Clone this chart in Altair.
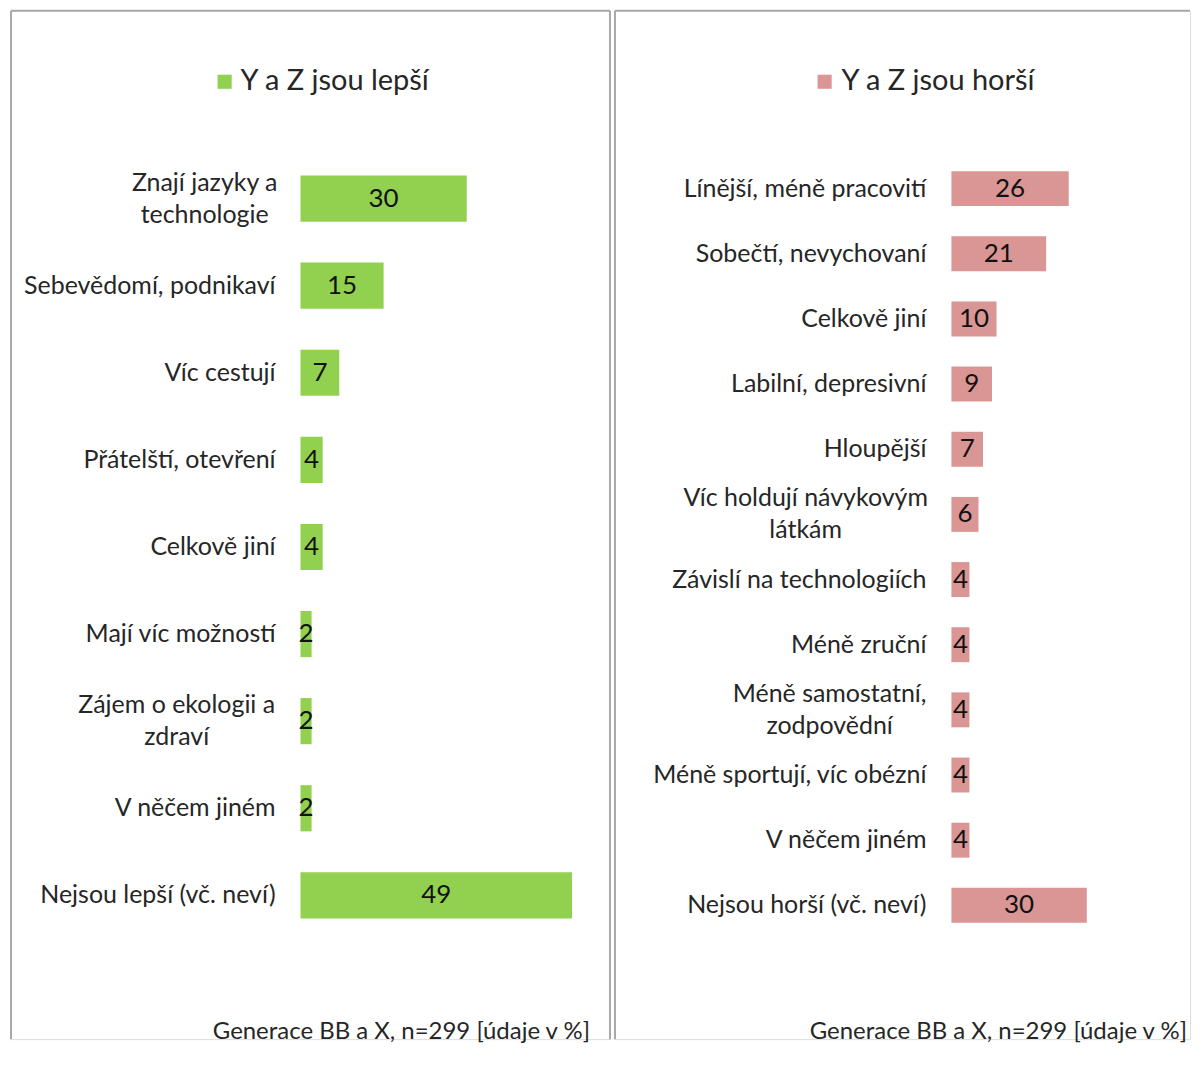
import altair as alt
import pandas as pd

# ---- data ----
left_title = "Y a Z jsou lepší"
left_cats = [
    "Znají jazyky a\ntechnologie",
    "Sebevědomí, podnikaví",
    "Víc cestují",
    "Přátelští, otevření",
    "Celkově jiní",
    "Mají víc možností",
    "Zájem o ekologii a\nzdraví",
    "V něčem jiném",
    "Nejsou lepší (vč. neví)",
]
left_vals = [30, 15, 7, 4, 4, 2, 2, 2, 49]

right_title = "Y a Z jsou horší"
right_cats = [
    "Línější, méně pracovití",
    "Sobečtí, nevychovaní",
    "Celkově jiní",
    "Labilní, depresivní",
    "Hloupější",
    "Víc holdují návykovým\nlátkám",
    "Závislí na technologiích",
    "Méně zruční",
    "Méně samostatní,\nzodpovědní",
    "Méně sportují, víc obézní",
    "V něčem jiném",
    "Nejsou horší (vč. neví)",
]
right_vals = [26, 21, 10, 9, 7, 6, 4, 4, 4, 4, 4, 30]

footer = "Generace BB a X, n=299 [údaje v %]"

FONT = "Lato"
LABEL_SIZE = 25
VALUE_SIZE = 26
TITLE_SIZE = 29
FOOT_SIZE = 24
PANEL_H = 1030
LINE_H = 32
BORDER = "#A9A9A9"


def panel(cats, vals, title, color, width, xdom, yrange, pin, pout,
          wrapped_dx, legend_sq_x, legend_tx_x, foot_x, right_border):
    df = pd.DataFrame({"cat": cats, "val": vals})
    df["mid"] = df["val"] / 2
    df["zero"] = 0
    x_scale = alt.Scale(domain=xdom, nice=False, zero=False)
    y_scale = alt.Scale(domain=cats, range=yrange, paddingInner=pin, paddingOuter=pout)
    y = alt.Y("cat:N", scale=y_scale, axis=None, sort=cats)
    base = alt.Chart(df)

    bars = base.mark_bar(color=color).encode(
        x=alt.X("val:Q", scale=x_scale, axis=None),
        x2=alt.X2("zero:Q"),
        y=y,
    )
    values = base.mark_text(
        font=FONT, fontSize=VALUE_SIZE, color="#111111", baseline="middle", align="center"
    ).encode(
        x=alt.X("mid:Q", scale=x_scale, axis=None),
        y=y,
        text="val:Q",
    )
    single = [c for c in cats if "\n" not in c]
    labels = base.transform_filter(
        alt.FieldOneOfPredicate(field="cat", oneOf=single)
    ).mark_text(
        font=FONT, fontSize=LABEL_SIZE, color="#262626", baseline="middle",
        align="right", dx=-25,
    ).encode(
        x=alt.X("zero:Q", scale=x_scale, axis=None),
        y=y,
        text="cat:N",
    )

    layers = [bars, values, labels]
    for c, dx in wrapped_dx.items():
        layers.append(
            base.transform_filter(alt.datum.cat == c)
            .mark_text(
                font=FONT, fontSize=LABEL_SIZE, color="#262626", baseline="middle",
                align="center", dx=dx, dy=-LINE_H / 2, lineBreak="\n", lineHeight=LINE_H,
            )
            .encode(
                x=alt.X("zero:Q", scale=x_scale, axis=None),
                y=y,
                text="cat:N",
            )
        )

    tdf = pd.DataFrame({"t": [title]})
    sq = alt.Chart(tdf).mark_square(color=color, size=200, opacity=1).encode(
        x=alt.value(legend_sq_x), y=alt.value(71)
    )
    tt = alt.Chart(tdf).mark_text(
        font=FONT, fontSize=TITLE_SIZE, color="#262626", align="left", baseline="middle"
    ).encode(x=alt.value(legend_tx_x), y=alt.value(70), text="t:N")
    fdf = pd.DataFrame({"t": [footer]})
    ft = alt.Chart(fdf).mark_text(
        font=FONT, fontSize=FOOT_SIZE, color="#262626", align="right", baseline="middle"
    ).encode(x=alt.value(foot_x), y=alt.value(1023), text="t:N")

    # panel frame (no bottom edge; it runs past the page in the original)
    top = alt.Chart(tdf).mark_rule(color=BORDER, strokeWidth=2).encode(
        x=alt.value(0), x2=alt.value(width), y=alt.value(0)
    )
    lft = alt.Chart(tdf).mark_rule(color=BORDER, strokeWidth=2).encode(
        x=alt.value(0), y=alt.value(0), y2=alt.value(PANEL_H)
    )
    layers += [sq, tt, ft, top, lft]
    if right_border:
        layers.append(
            alt.Chart(tdf).mark_rule(color=BORDER, strokeWidth=2).encode(
                x=alt.value(width), y=alt.value(0), y2=alt.value(PANEL_H)
            )
        )
    return alt.layer(*layers).properties(width=width, height=PANEL_H)


RW = 576
left = panel(
    left_cats, left_vals, left_title, "#92D050", 600,
    [-290 / 5.55, 310 / 5.55], [144.4, 929.6], 0.47, 0.235,
    {"Znají jazyky a\ntechnologie": -96, "Zájem o ekologii a\nzdraví": -124},
    214, 230, 580, True,
)
right = panel(
    right_cats, right_vals, right_title, "#DA9694", RW,
    [-337 / 4.52, (RW - 337) / 4.52], [145.4, 928.6], 0.464, 0.232,
    {"Víc holdují návykovým\nlátkám": -146, "Méně samostatní,\nzodpovědní": -122},
    210, 227, 573, False,
)

chart = (
    alt.hconcat(left, right, spacing=1)
    .properties(padding={"left": 1, "top": 0, "right": 0, "bottom": 0})
    .configure_view(stroke=None)
    .configure(background="white")
)

chart.save("out.html", embed_options={"renderer": "svg", "actions": False})
